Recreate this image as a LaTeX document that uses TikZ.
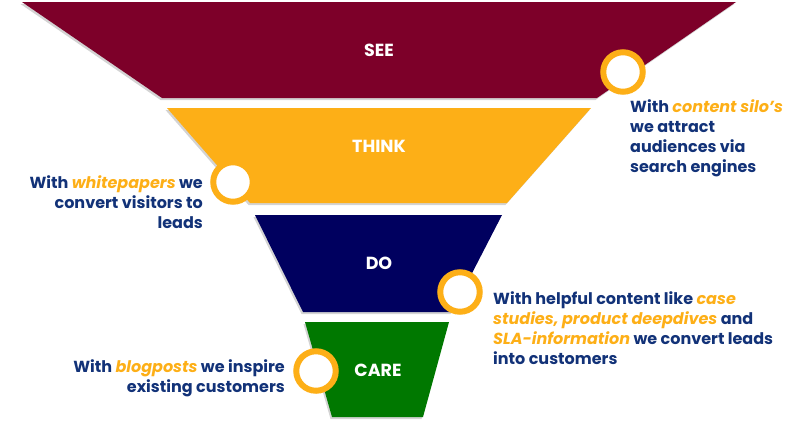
\documentclass[tikz,border=0pt]{standalone}
\usepackage{fontspec}
\setmainfont{Poppins}
\usetikzlibrary{shadows}
\definecolor{seecol}{HTML}{7D0029}
\definecolor{thinkcol}{HTML}{FDAF17}
\definecolor{docol}{HTML}{00005F}
\definecolor{carecol}{HTML}{007800}
\definecolor{orng}{HTML}{FDAF17}
\definecolor{navy}{HTML}{123278}
\newcommand{\hlt}[1]{\textcolor{orng}{\itshape #1}}
\begin{document}
\begin{tikzpicture}[x=1pt,y=-1pt,
  stage/.style={drop shadow={shadow xshift=-1.5pt,shadow yshift=-2pt,opacity=.35}},
  lbl/.style={text=white,font=\fontsize{17.5}{20}\selectfont\bfseries,inner sep=0},
  ring/.style={circle,draw=orng,line width=6pt,fill=white,minimum size=39.5pt,inner sep=0},
  txt/.style={text=navy,font=\fontsize{16}{20}\selectfont\bfseries,inner sep=0}]
\useasboundingbox (0,0) rectangle (800,424);
\fill[seecol,stage] (22,2) -- (736,2) -- (597,98) -- (162,98) -- cycle;
\fill[thinkcol,stage] (167,108) -- (591,108) -- (507,203) -- (250,203) -- cycle;
\fill[docol,stage] (255,215) -- (502,215) -- (452,312) -- (303,312) -- cycle;
\fill[carecol,stage] (305,322) -- (449,322) -- (423,417) -- (332,417) -- cycle;
\node[lbl] (see) at (379,50) {SEE};
\node[lbl] (think) at (379,146) {THINK};
\node[lbl] (do) at (379,263) {DO};
\node[lbl] (care) at (378,370) {CARE};
\node[ring] (c1) at (623,72) {};
\node[ring] (c2) at (233,182) {};
\node[ring] (c3) at (460,292) {};
\node[ring] (c4) at (316,371) {};
\node[txt,align=left,anchor=base west] (t1) at (630,172) {With \hlt{content silo’s}\\we attract\\audiences via\\search engines};
\node[txt,align=right,anchor=base east] (t2) at (203,228) {With \hlt{whitepapers} we\\convert visitors to\\leads};
\node[txt,align=left,anchor=base west] (t3) at (493,364) {With helpful content like \hlt{case}\\\hlt{studies, product deepdives} and\\\hlt{SLA-information} we convert leads\\into customers};
\node[txt,align=right,anchor=base east] (t4) at (285,392) {With \hlt{blogposts} we inspire\\existing customers};
\end{tikzpicture}
\end{document}
